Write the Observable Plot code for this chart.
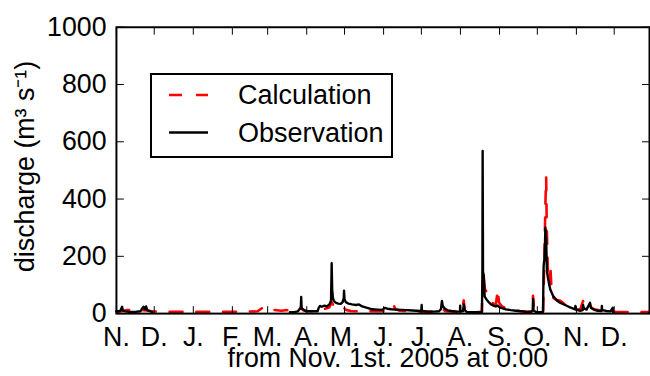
<!DOCTYPE html>
<html><head><meta charset="utf-8">
<script src="https://cdn.jsdelivr.net/npm/d3@7"></script>
<script src="https://cdn.jsdelivr.net/npm/@observablehq/plot@0.6"></script>
<style>
html,body{margin:0;padding:0;background:#fff;overflow:hidden;width:650px;height:376px;}
#wrap{position:relative;width:650px;height:376px;overflow:hidden;font-family:"Liberation Sans",Arial,sans-serif;}
#legend{position:absolute;left:150px;top:73px;width:243px;height:85px;box-sizing:border-box;border:2px solid #000;background:#fff;}
#legend span{position:absolute;left:86px;font-size:27px;line-height:30px;color:#000;white-space:nowrap;}
#legend svg{position:absolute;left:0;top:0;}
</style>
</head><body>
<div id="wrap"></div>
<script>
// Days after Nov. 1st 2005 0:00 and discharge (m3/s)
const obsDay = [0,3,4.5,5,7,10,15,19,20.5,21.5,22.5,23.5,24.5,27,28.5,29,
  137,137.6,141,144,145,146.3,146.6,147,148.5,150,155,159.6,160.5,161.5,163,165,167,169,170.3,170.8,171.2,171.8,172.5,174,176,178,179.5,180.4,180.6,181,182,184,187,190,192.5,195,199,203,207,211,213,215,218,222,226,230,235,238,242,242.2,242.5,247,252,256,257.5,258.3,259,260.5,263,266,270,272.6,272.8,273,275,275.6,276.3,278,283,287,290,290.4,290.6,290.9,291.5,292.2,293.5,295,297,299,301,302.7,304,306,309,313,317,321,325,329,330.3,330.6,331,333,336,338.5,339,339.8,340.4,341,341.6,342.4,343.5,344.3,346.7,349.8,352,356,360,364,364.2,364.5,368,370,370.3,371,373,375.8,376.5,379,382,385,385.2,385.5,389,392,393.8,394];
const obsQ = [8,9,24,11,8,6,6,8,18,24,15,25,12,8,6,null,
  null,5,5,8,14,20,58,18,14,9,8,8,20,27,24,28,25,32,45,176,85,55,45,38,35,34,40,55,80,50,40,35,32,30,32,25,20,15,14,13,20,17,15,14,13,12,11,10,9,30,9,7,7,8,15,44,25,18,11,9,7,7,28,7,9,32,12,6,5,5,5,120,568,145,135,60,50,42,33,28,25,28,22,19,15,12,10,8,6,5,12,50,10,6,5,6,166,200,300,260,150,125,100,84,60,45,38,30,22,15,27,14,10,12,30,18,14,38,20,13,10,9,27,12,9,8,20,6];
const calcDay = [0,4,8,12,16,20,24,28,35,50,70,90,105,112,114.8,117.9,120,122,127,131,134,138,142,146.5,148,152,158,161,165,169,170.9,172,174,177,180.6,182,186,191,200,210,217,219,220.1,221.5,225,232,245,255,258.4,261,268,274,275.6,276.5,282,290,290.5,291,291.6,292.5,294,295.5,298,301,302.7,303.5,306,310,315,320,326,329.5,330.6,331.5,335,338.6,339.5,340.5,341,341.5,342.5,343.5,344.3,345.2,346.7,349,352.2,356,360,365,368,370.3,371,373,375.8,377,380,385,390,396,410,423];
const calcQ = [6,8,12,12,10,12,11,8,6,6,6,6,7,8,17,24,18,14,12,10,12,11,8,20,12,8,8,15,16,22,40,30,20,15,20,13,9,8,8,8,10,20,28,15,10,8,7,7,18,8,7,6,46,10,5,5,100,150,120,84,75,60,38,30,84,40,25,18,12,9,7,8,62,12,8,8,180,400,476,300,120,100,170,90,55,48,45,32,22,15,14,44,22,18,30,20,14,10,8,6,5,5];
const monthLetters = ["J.","F.","M.","A.","M.","J.","J.","A.","S.","O.","N.","D."];
const yTicks = [0,200,400,600,800,1000];
const yLabel = "discharge (m\u00B3 s\u207B\u00B9)";
const xLabel = "from Nov. 1st. 2005 at 0:00";
const seriesNames = ["Calculation","Observation"];

const start = new Date(Date.UTC(2005,10,1));
const toDate = d => new Date(start.getTime() + d*864e5);
const obs = obsDay.map((d,i)=>({date: toDate(d), q: obsQ[i]}));
const calc = calcDay.map((d,i)=>({date: toDate(d), q: calcQ[i]}));
const monthTicks = d3.utcMonth.range(start, new Date(Date.UTC(2007,0,1)));

const chart = Plot.plot({
  width: 656, height: 376,
  marginTop: 27, marginBottom: 60, marginLeft: 117, marginRight: 1,
  style: {fontFamily: "Liberation Sans, Arial, sans-serif", fontSize: "27px", background: "#fff", color: "#000"},
  x: {type: "utc", domain: [start, toDate(423)]},
  y: {domain: [0, 1000]},
  marks: [
    Plot.line(calc, {x:"date", y:"q", stroke:"#ff0000", strokeWidth: 2.6, strokeDasharray: "13,14"}),
    Plot.line(obs, {x:"date", y:"q", stroke:"#000", strokeWidth: 2.4}),
    Plot.axisX({anchor:"bottom", ticks: monthTicks, tickSize: 7, dy: -7, fill: "none", label: null}),
    Plot.axisX({anchor:"top", ticks: monthTicks, tickSize: 7, dy: 7, fill: "none", label: null}),
    Plot.axisX({anchor:"bottom", ticks: monthTicks, tickSize: 0, tickPadding: 14, tickFormat: d => monthLetters[d.getUTCMonth()], fontSize: 27, label: null}),
    Plot.axisY({anchor:"left", ticks: yTicks, tickSize: 8, dx: 8, fill: "none", label: null}),
    Plot.axisY({anchor:"right", ticks: yTicks, tickSize: 8, dx: -8, fill: "none", label: null}),
    Plot.axisY({anchor:"left", ticks: yTicks, tickSize: 0, tickPadding: 10, tickFormat: d => String(d), fontSize: 27, label: null}),
    Plot.frame({stroke:"#000", strokeWidth: 2}),
    Plot.text([yLabel], {text: d => d, frameAnchor:"left", textAnchor:"middle", dx:-92, dy:-4, rotate:-90, fontSize:27}),
    Plot.text([xLabel], {text: d => d, frameAnchor:"bottom", textAnchor:"middle", dx: 5, dy: 45.5, fontSize:27, lineAnchor:"middle"})
  ]
});
const wrap = document.getElementById("wrap");
wrap.appendChild(chart);

const legend = document.createElement("div");
legend.id = "legend";
legend.innerHTML = `<svg width="239" height="81">
  <line x1="17" x2="56" y1="20" y2="20" stroke="#ff0000" stroke-width="2.4" stroke-dasharray="13,14"/>
  <line x1="17" x2="56" y1="57.5" y2="57.5" stroke="#000" stroke-width="2.4"/>
</svg><span style="top:5px">${seriesNames[0]}</span><span style="top:42.5px">${seriesNames[1]}</span>`;
wrap.appendChild(legend);
</script>
</body></html>
